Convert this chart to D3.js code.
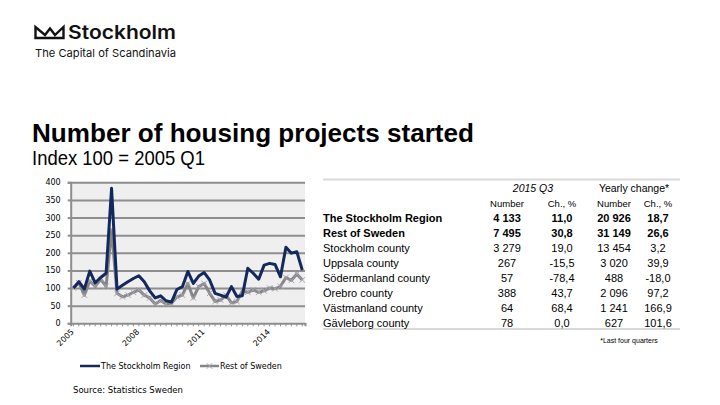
<!DOCTYPE html>
<html>
<head>
<meta charset="utf-8">
<script src="https://cdn.jsdelivr.net/npm/d3@7"></script>
<style>
  body { margin: 0; background: #fff; }
  svg { display: block; }
</style>
</head>
<body>
<svg id="chart" width="720" height="405"></svg>
<script>
// quarterly index, 100 = 2005 Q1
var quarters = [
  "2005 Q1","2005 Q2","2005 Q3","2005 Q4","2006 Q1","2006 Q2","2006 Q3","2006 Q4",
  "2007 Q1","2007 Q2","2007 Q3","2007 Q4","2008 Q1","2008 Q2","2008 Q3","2008 Q4",
  "2009 Q1","2009 Q2","2009 Q3","2009 Q4","2010 Q1","2010 Q2","2010 Q3","2010 Q4",
  "2011 Q1","2011 Q2","2011 Q3","2011 Q4","2012 Q1","2012 Q2","2012 Q3","2012 Q4",
  "2013 Q1","2013 Q2","2013 Q3","2013 Q4","2014 Q1","2014 Q2","2014 Q3","2014 Q4",
  "2015 Q1","2015 Q2","2015 Q3"
];
var stockholmRegion = [100,118,97,148,115,130,142,383,97,108,118,127,135,118,92,72,
  78,64,60,96,104,147,113,134,144,123,85,80,74,104,76,78,156,142,125,165,170,167,132,216,199,203,151];
var restOfSweden = [100,115,80,120,105,125,105,265,85,75,80,88,95,80,72,55,
  65,55,57,75,80,113,72,104,113,85,62,66,80,58,62,92,88,95,88,92,100,98,105,130,122,140,123];
var yTicks = [0, 50, 100, 150, 200, 250, 300, 350, 400];
var yearTicks = ["2005 Q1", "2008 Q1", "2011 Q1", "2014 Q1"];

// table
var tableRows = ["The Stockholm Region", "Rest of Sweden", "Stockholm county", "Uppsala county",
  "Södermanland county", "Örebro county", "Västmanland county", "Gävleborg county"];
var boldRows = [true, true, false, false, false, false, false, false];
var q3Number = ["4 133", "7 495", "3 279", "267", "57", "388", "64", "78"];
var q3Change = ["11,0", "30,8", "19,0", "-15,5", "-78,4", "43,7", "68,4", "0,0"];
var yearNumber = ["20 926", "31 149", "13 454", "3 020", "488", "2 096", "1 241", "627"];
var yearChange = ["18,7", "26,6", "3,2", "39,9", "-18,0", "97,2", "166,9", "101,6"];

var svg = d3.select("#chart");
var navy = "#13285c", grey = "#858585", markGrey = "#a7a2b3", gridCol = "#8e8e8e";

// ---- logo
var logo = svg.append("g");
logo.append("path")
  .attr("d", "M35.5,38 L35.5,27 L45,35 L50,28.5 L55,35 L63.5,27 L63.5,38 Z")
  .attr("fill", "none").attr("stroke", "#111").attr("stroke-width", 2.4)
  .attr("stroke-linejoin", "miter");
logo.append("text").attr("x", 68).attr("y", 38.5)
  .attr("font-family", "Inter").attr("font-weight", 600).attr("font-size", 18.5)
  .attr("textLength", 108).attr("lengthAdjust", "spacingAndGlyphs")
  .attr("fill", "#111").text("Stockholm");
logo.append("text").attr("x", 35).attr("y", 57)
  .attr("font-family", "Inter").attr("font-size", 11)
  .attr("textLength", 141).attr("lengthAdjust", "spacingAndGlyphs")
  .attr("fill", "#111").text("The Capital of Scandinavia");

// ---- titles
svg.append("text").attr("x", 32).attr("y", 142)
  .attr("font-family", "Liberation Sans, Arial").attr("font-weight", "bold").attr("font-size", 25)
  .attr("textLength", 442).attr("lengthAdjust", "spacingAndGlyphs")
  .text("Number of housing projects started");
svg.append("text").attr("x", 32).attr("y", 165)
  .attr("font-family", "Liberation Sans Narrow, Liberation Sans, Arial").attr("font-size", 21)
  .attr("textLength", 173).attr("lengthAdjust", "spacingAndGlyphs")
  .text("Index 100 = 2005 Q1");

// ---- line chart
var plot = { left: 70.7, right: 305, top: 182.3, bottom: 323.3 };

var x = d3.scaleBand().domain(quarters).range([plot.left, plot.right]);
var y = d3.scaleLinear().domain([0, 400]).range([plot.bottom, plot.top]);
var cx = function(q) { return x(q) + x.bandwidth() / 2; };

svg.append("rect")
  .attr("x", plot.left).attr("y", plot.top)
  .attr("width", plot.right - plot.left).attr("height", plot.bottom - plot.top)
  .attr("fill", "#efefef");

// gridlines
svg.append("g")
  .attr("transform", "translate(" + plot.left + ",0)")
  .call(d3.axisLeft(y).tickValues(yTicks.slice(1)).tickSize(-(plot.right - plot.left)).tickFormat(""))
  .call(function(g) {
    g.select(".domain").remove();
    g.selectAll("line").attr("stroke", gridCol).attr("stroke-width", 2);
  });

// y axis
svg.append("g")
  .attr("transform", "translate(" + plot.left + ",0)")
  .call(d3.axisLeft(y).tickValues(yTicks).tickSize(3).tickPadding(7))
  .call(function(g) {
    g.select(".domain").attr("stroke", gridCol).attr("stroke-width", 2);
    g.selectAll("line").attr("stroke", gridCol).attr("stroke-width", 2);
    g.selectAll("text").attr("font-family", "DejaVu Sans").attr("font-size", 8).attr("fill", "#000");
  });

// x axis: small tick per quarter
var xAxis = svg.append("g")
  .attr("transform", "translate(0," + plot.bottom + ")")
  .call(d3.axisBottom(x).tickSize(3).tickFormat(""))
  .call(function(g) {
    g.select(".domain").attr("stroke", gridCol).attr("stroke-width", 2);
    g.selectAll("line").attr("stroke", gridCol).attr("stroke-width", 1);
  });

svg.append("g").selectAll("text")
  .data(yearTicks).enter().append("text")
  .attr("transform", function(d) { return "translate(" + (cx(d) + 1) + "," + (plot.bottom + 9) + ") rotate(-45)"; })
  .attr("text-anchor", "end")
  .attr("font-family", "DejaVu Sans").attr("font-size", 8)
  .text(function(d) { return d.slice(0, 4); });

var line = d3.line()
  .x(function(d, i) { return cx(quarters[i]); })
  .y(function(d) { return y(d); });

svg.append("path").datum(restOfSweden)
  .attr("d", line).attr("fill", "none")
  .attr("stroke", grey).attr("stroke-width", 3).attr("stroke-linejoin", "round");

svg.append("g").selectAll("path")
  .data(restOfSweden).enter().append("path")
  .attr("transform", function(d, i) { return "translate(" + cx(quarters[i]) + "," + y(d) + ")"; })
  .attr("d", d3.symbol(d3.symbolTimes, 22))
  .attr("fill", "none").attr("stroke", markGrey).attr("stroke-width", 1);

svg.append("path").datum(stockholmRegion)
  .attr("d", line).attr("fill", "none")
  .attr("stroke", navy).attr("stroke-width", 3).attr("stroke-linejoin", "round");

// legend
var legend = svg.append("g").attr("font-family", "DejaVu Sans").attr("font-size", 8);
legend.append("line").attr("x1", 80).attr("x2", 100).attr("y1", 366).attr("y2", 366)
  .attr("stroke", navy).attr("stroke-width", 2.5);
legend.append("text").attr("x", 101).attr("y", 369).text("The Stockholm Region");
legend.append("line").attr("x1", 200).attr("x2", 219).attr("y1", 366).attr("y2", 366)
  .attr("stroke", grey).attr("stroke-width", 2.5);
legend.append("path").attr("transform", "translate(209.5,366)")
  .attr("d", d3.symbol(d3.symbolTimes, 22))
  .attr("fill", "none").attr("stroke", markGrey).attr("stroke-width", 1);
legend.append("text").attr("x", 220).attr("y", 369).text("Rest of Sweden");

svg.append("text").attr("x", 73).attr("y", 393)
  .attr("font-family", "DejaVu Sans").attr("font-size", 8.5)
  .text("Source: Statistics Sweden");

// ---- table
var tbl = svg.append("g").attr("font-family", "Liberation Sans, Arial").attr("font-size", 11);
tbl.append("line").attr("x1", 323).attr("x2", 680).attr("y1", 179.5).attr("y2", 179.5)
  .attr("stroke", "#d9d9d9").attr("stroke-width", 2);
tbl.append("line").attr("x1", 323).attr("x2", 680).attr("y1", 329).attr("y2", 329)
  .attr("stroke", "#d9d9d9").attr("stroke-width", 2);

tbl.append("text").attr("x", 533).attr("y", 192).attr("text-anchor", "middle")
  .attr("font-style", "italic").attr("font-size", 10.5).text("2015 Q3");
tbl.append("text").attr("x", 634).attr("y", 192).attr("text-anchor", "middle")
  .attr("font-size", 10.5).text("Yearly change*");

var colX = [507, 562, 614, 658];
var headers = ["Number", "Ch., %", "Number", "Ch., %"];
tbl.selectAll("text.hdr").data(headers).enter().append("text")
  .attr("class", "hdr")
  .attr("x", function(d, i) { return colX[i]; }).attr("y", 207)
  .attr("text-anchor", "middle").attr("font-size", 9.5)
  .text(function(d) { return d; });

var rowY = d3.scaleLinear().domain([0, 1]).range([222, 237]);
var cols = [q3Number, q3Change, yearNumber, yearChange];

tableRows.forEach(function(name, r) {
  var w = boldRows[r] ? "bold" : "normal";
  tbl.append("text").attr("x", 323).attr("y", rowY(r))
    .attr("font-weight", w).text(name);
  cols.forEach(function(col, c) {
    tbl.append("text").attr("x", colX[c]).attr("y", rowY(r))
      .attr("text-anchor", "middle").attr("font-weight", w).text(col[r]);
  });
});

tbl.append("text").attr("x", 629).attr("y", 343).attr("text-anchor", "middle")
  .attr("font-size", 7).text("*Last four quarters");
</script>
</body>
</html>
